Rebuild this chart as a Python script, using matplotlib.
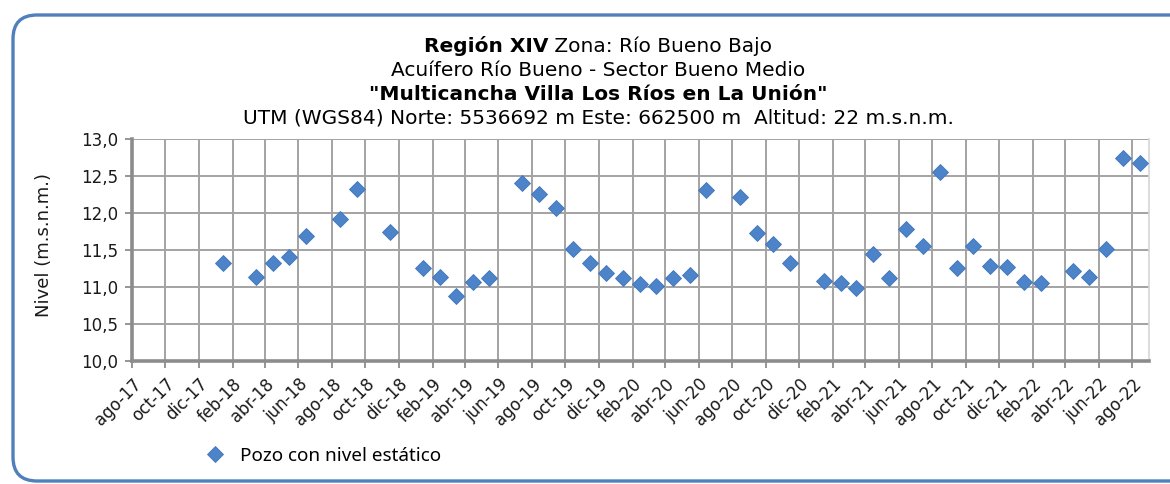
import matplotlib
matplotlib.use('Agg')
import matplotlib.pyplot as plt
import matplotlib.dates as mdates
from matplotlib.patches import FancyBboxPatch
from matplotlib.ticker import FuncFormatter, MultipleLocator
import datetime as dt

# ---- data ----
fechas = ['2018-01-15', '2018-03-15', '2018-04-15', '2018-05-15', '2018-06-15',
          '2018-08-15', '2018-09-15', '2018-11-15', '2019-01-15', '2019-02-15',
          '2019-03-15', '2019-04-15', '2019-05-15', '2019-07-15', '2019-08-15',
          '2019-09-15', '2019-10-15', '2019-11-15', '2019-12-15', '2020-01-15',
          '2020-02-15', '2020-03-15', '2020-04-15', '2020-05-15', '2020-06-15',
          '2020-08-15', '2020-09-15', '2020-10-15', '2020-11-15', '2021-01-15',
          '2021-02-15', '2021-03-15', '2021-04-15', '2021-05-15', '2021-06-15',
          '2021-07-15', '2021-08-15', '2021-09-15', '2021-10-15', '2021-11-15',
          '2021-12-15', '2022-01-15', '2022-02-15', '2022-04-15', '2022-05-15',
          '2022-06-15', '2022-07-15', '2022-08-15']
nivel = [11.33, 11.13, 11.33, 11.40, 11.69,
         11.92, 12.32, 11.75, 11.26, 11.13,
         10.88, 11.07, 11.12, 12.41, 12.26,
         12.07, 11.52, 11.32, 11.19, 11.12,
         11.04, 11.02, 11.12, 11.16, 12.31,
         12.21, 11.73, 11.58, 11.32, 11.08,
         11.05, 10.99, 11.44, 11.12, 11.78,
         11.56, 12.55, 11.26, 11.56, 11.29,
         11.27, 11.07, 11.05, 11.22, 11.13,
         11.52, 12.75, 12.68]
meses_es = ['ene', 'feb', 'mar', 'abr', 'may', 'jun', 'jul', 'ago', 'sep', 'oct', 'nov', 'dic']
serie_label = 'Pozo con nivel estático'
y_label = 'Nivel (m.s.n.m.)'
titulo = [
    [('Región XIV', 'bold'), (' Zona: Río Bueno Bajo', 'normal')],
    [('Acuífero Río Bueno - Sector Bueno Medio', 'normal')],
    [('"Multicancha Villa Los Ríos en La Unión"', 'bold')],
    [('UTM (WGS84) Norte: 5536692 m Este: 662500 m  Altitud: 22 m.s.n.m.', 'normal')],
]

W, H = 1170, 484
fig = plt.figure(figsize=(W / 100, H / 100), dpi=100)
fig.patch.set_facecolor('white')

# background / frame
bg = fig.add_axes([0, 0, 1, 1], zorder=0)
bg.set_xlim(0, W)
bg.set_ylim(H, 0)
bg.axis('off')
bg.add_patch(FancyBboxPatch((13, 15), 1200 - 13, 481 - 15,
                            boxstyle='round,pad=0,rounding_size=24',
                            fc='white', ec='#4f7fbd', lw=2.4))

ax = fig.add_axes([132 / W, 1 - 361 / H, (1149 - 132) / W, (361 - 139) / H], zorder=1)
ax.set_facecolor('white')
x = [dt.datetime.strptime(f, '%Y-%m-%d') for f in fechas]
ax.plot(x, nivel, ls='none', marker='D', ms=8, color='#4d84c9', mec='#3f76bb', mew=0.6,
        label=serie_label, zorder=3, clip_on=False)
ax.set_xlim(dt.datetime(2017, 8, 1), dt.datetime(2022, 9, 1))
ax.set_ylim(10, 13)


def fmt_mes(v, p):
    d = mdates.num2date(v)
    return f"{meses_es[d.month - 1]}-{d.year % 100:02d}"


ax.xaxis.set_major_locator(mdates.MonthLocator(bymonth=[2, 4, 6, 8, 10, 12]))
ax.xaxis.set_major_formatter(FuncFormatter(fmt_mes))
ax.yaxis.set_major_locator(MultipleLocator(0.5))
ax.yaxis.set_major_formatter(FuncFormatter(lambda v, p: f"{v:.1f}".replace('.', ',')))
ax.grid(True, color='#a3a3a3', lw=1.4)
ax.set_axisbelow(True)
ax.spines['top'].set_visible(False)
ax.spines['right'].set_color('#d6d6d6')
ax.spines['right'].set_linewidth(1.2)
for s in ['left', 'bottom']:
    ax.spines[s].set_color('#8c8c8c')
    ax.spines[s].set_linewidth(2.6)
ax.tick_params(axis='both', direction='out', length=5, width=1.3, color='#8c8c8c',
               labelsize=12, labelcolor='#1a1a1a')
ax.tick_params(axis='y', pad=5)
ax.tick_params(axis='x', pad=5)
for lbl in ax.get_xticklabels():
    lbl.set_rotation(45)
    lbl.set_ha('right')
    lbl.set_va('top')
    lbl.set_rotation_mode('anchor')
ax.set_ylabel(y_label, fontsize=13, color='#1a1a1a')
ax.yaxis.set_label_coords(53 / W, 1 - 245 / H, transform=fig.transFigure)

leg = ax.legend(loc='center left', bbox_to_anchor=(196 / W, 1 - 456 / H),
                bbox_transform=fig.transFigure, frameon=False, borderpad=0,
                handlelength=1.0, handletextpad=0.85,
                prop={'family': ['Noto Sans', 'DejaVu Sans'], 'size': 13.6})

# title lines with mixed weights
fig.canvas.draw()
renderer = fig.canvas.get_renderer()
centro = 598
ys = [46, 70, 94, 118]
for linea, yc in zip(titulo, ys):
    objs = []
    for txt, w in linea:
        t = fig.text(0, 1 - yc / H, txt, fontsize=14.5, fontweight=w,
                     family=['DejaVu Sans'],
                     ha='left', va='center', color='black')
        objs.append(t)
    widths = [o.get_window_extent(renderer).width for o in objs]
    total = sum(widths)
    x0 = centro - total / 2
    for o, wd in zip(objs, widths):
        o.set_x(x0 / W)
        x0 += wd

fig.savefig('out.png', dpi=100, facecolor='white')
